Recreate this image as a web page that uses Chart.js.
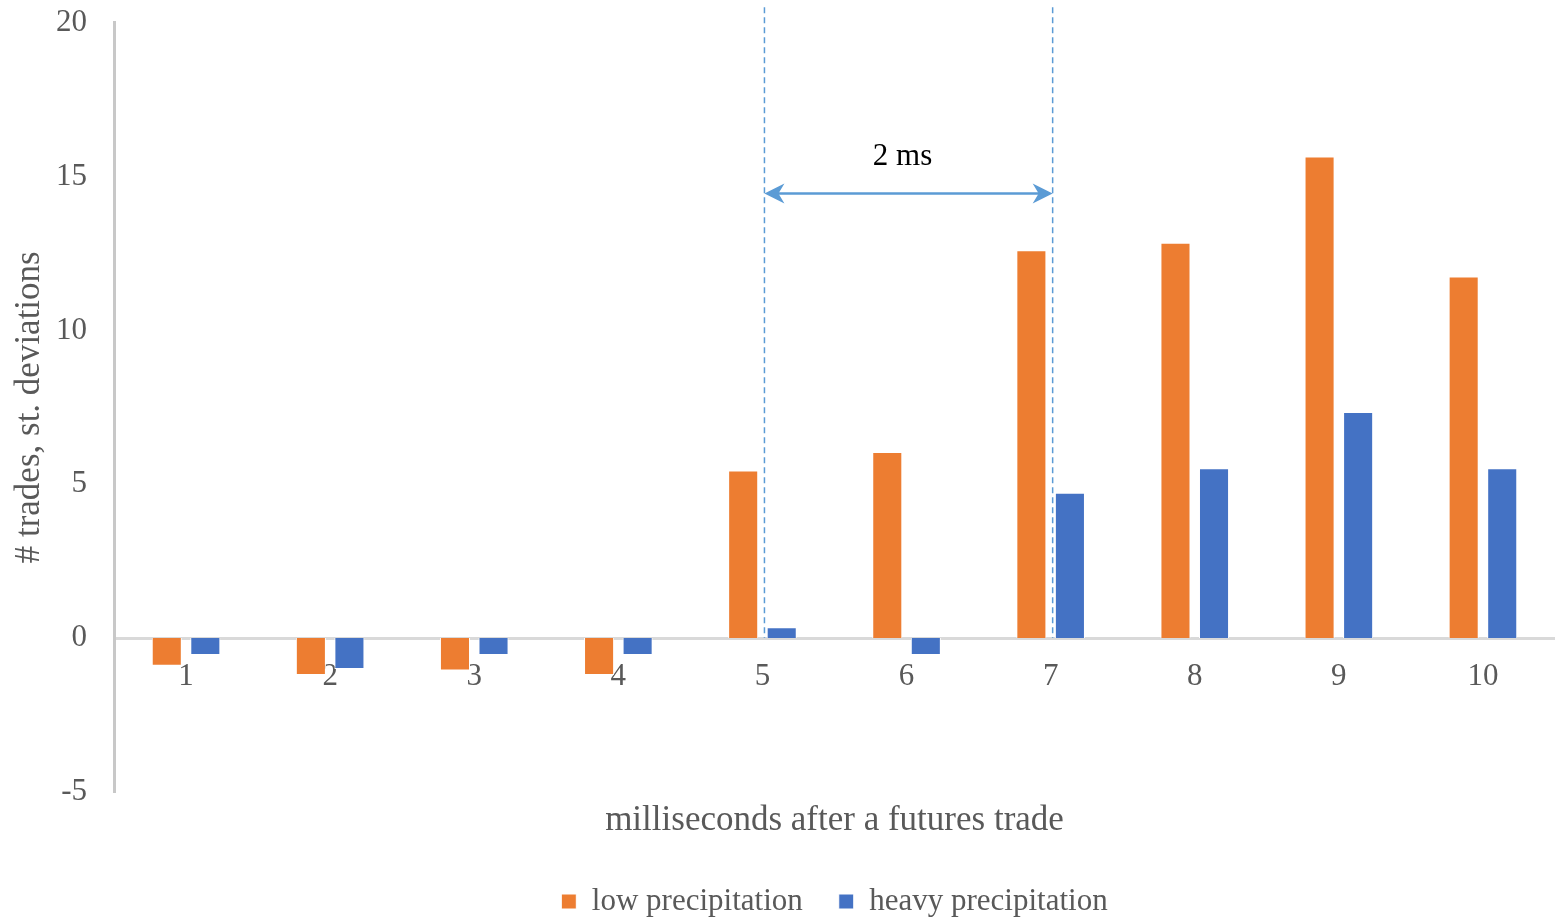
<!DOCTYPE html>
<html>
<head>
<meta charset="utf-8">
<script src="https://cdn.jsdelivr.net/npm/chart.js@4/dist/chart.umd.min.js"></script>
<style>
  html, body { margin: 0; padding: 0; background: #fff; }
  #wrap { width: 1555px; height: 919px; position: relative; overflow: hidden; }
  #inner { position: absolute; left: 0; top: -23px; width: 1555px; height: 942px; }
</style>
</head>
<body>
<div id="wrap"><div id="inner"><canvas id="tradesChart"></canvas></div></div>
<script>
// values
const msLabels = ['1', '2', '3', '4', '5', '6', '7', '8', '9', '10'];
const lowPrecip = [-0.9, -1.2, -1.05, -1.2, 5.45, 6.05, 12.6, 12.85, 15.65, 11.75];
const heavyPrecip = [-0.55, -1.0, -0.55, -0.55, 0.35, -0.55, 4.72, 5.52, 7.35, 5.52];

const yMin = -5;
const yMax = 20;
const yStep = 5;

// the "2 ms" bracket between two categories
const spanStart = '5';
const spanEnd = '7';
const spanText = '2 ms';
const arrowLevel = 14.45;
const spanTextLevel = 15.65;
const dashTop = 20.5;

const serif = "'Liberation Serif', 'Times New Roman', serif";
const grey = '#595959';
const lineBlue = '#5B9BD5';

Chart.defaults.font.family = serif;

const spanPlugin = {
    id: 'spanBracket',
    afterDatasetsDraw(chart) {
        const ctx = chart.ctx;
        const x = chart.scales.x;
        const y = chart.scales.y;
        const x1 = x.getPixelForValue(msLabels.indexOf(spanStart)) + 2;
        const x2 = x.getPixelForValue(msLabels.indexOf(spanEnd)) + 2;

        ctx.save();
        ctx.strokeStyle = lineBlue;
        ctx.fillStyle = lineBlue;

        // dashed markers
        ctx.lineWidth = 1.5;
        ctx.setLineDash([6, 4]);
        [x1, x2].forEach(px => {
            ctx.beginPath();
            ctx.moveTo(px, y.getPixelForValue(dashTop));
            ctx.lineTo(px, y.getPixelForValue(0));
            ctx.stroke();
        });
        ctx.setLineDash([]);

        // double arrow
        const ay = y.getPixelForValue(arrowLevel);
        ctx.lineWidth = 2.5;
        ctx.beginPath();
        ctx.moveTo(x1 + 10, ay);
        ctx.lineTo(x2 - 10, ay);
        ctx.stroke();

        const head = (tipX, dir) => {
            ctx.beginPath();
            ctx.moveTo(tipX, ay);
            ctx.lineTo(tipX + dir * 20, ay - 10);
            ctx.lineTo(tipX + dir * 14, ay);
            ctx.lineTo(tipX + dir * 20, ay + 10);
            ctx.closePath();
            ctx.fill();
        };
        head(x1, 1);
        head(x2, -1);

        // label
        ctx.fillStyle = '#000';
        ctx.font = '31px ' + serif;
        ctx.textAlign = 'center';
        ctx.textBaseline = 'middle';
        ctx.fillText(spanText, (x1 + x2) / 2 - 6, y.getPixelForValue(spanTextLevel));
        ctx.restore();
    }
};

const ctx = document.getElementById('tradesChart').getContext('2d');

new Chart(ctx, {
    type: 'bar',
    data: {
        labels: msLabels,
        datasets: [{
            label: 'low precipitation',
            data: lowPrecip,
            backgroundColor: '#ED7D31',
            borderColor: '#ffffff',
            borderWidth: 1
        }, {
            label: 'heavy precipitation',
            data: heavyPrecip,
            backgroundColor: '#4472C4',
            borderColor: '#ffffff',
            borderWidth: 1
        }]
    },
    options: {
        responsive: true,
        maintainAspectRatio: false,
        animation: false,
        categoryPercentage: 0.535,
        barPercentage: 0.78,
        layout: {
            padding: { top: 0, left: 0, right: 0, bottom: -8 }
        },
        scales: {
            x: {
                position: { y: 0 },
                grid: { display: false, drawTicks: false },
                border: { display: true, color: '#D9D9D9', width: 3 },
                ticks: {
                    color: grey,
                    padding: 20,
                    maxRotation: 0,
                    font: { size: 31 }
                }
            },
            y: {
                min: yMin,
                max: yMax,
                afterFit: scale => { scale.width = 114; },
                grid: { display: false, drawTicks: false },
                border: { display: true, color: '#C8C8C8', width: 3 },
                ticks: {
                    stepSize: yStep,
                    color: grey,
                    padding: 27,
                    font: { size: 31 }
                },
                title: {
                    display: true,
                    text: '# trades, st. deviations',
                    color: grey,
                    padding: { top: 9, bottom: 0 },
                    font: { size: 35 }
                }
            }
        },
        plugins: {
            legend: {
                position: 'bottom',
                fullSize: false,
                labels: {
                    color: grey,
                    boxWidth: 15,
                    boxHeight: 15,
                    padding: 36,
                    font: { size: 31 }
                }
            },
            title: {
                display: true,
                position: 'bottom',
                fullSize: false,
                weight: 500,
                text: 'milliseconds after a futures trade',
                color: grey,
                padding: { top: 8, bottom: 8 },
                font: { size: 35, weight: 'normal' }
            },
            tooltip: { enabled: false }
        }
    },
    plugins: [spanPlugin]
});
</script>
</body>
</html>
